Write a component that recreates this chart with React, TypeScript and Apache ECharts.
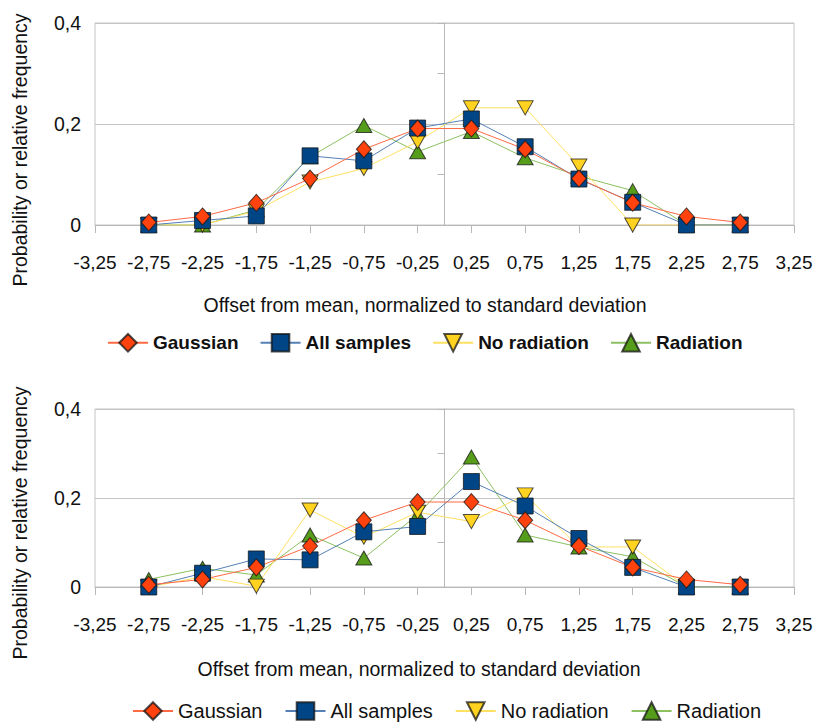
import React, { useEffect, useRef } from "react";
import * as echarts from "echarts";

const bins = [-2.75, -2.25, -1.75, -1.25, -0.75, -0.25, 0.25, 0.75, 1.25, 1.75, 2.25, 2.75];
const xTickValues = [-3.25, -2.75, -2.25, -1.75, -1.25, -0.75, -0.25, 0.25, 0.75, 1.25, 1.75, 2.25, 2.75, 3.25];

const gaussian = [0.005, 0.017, 0.044, 0.092, 0.15, 0.191, 0.191, 0.15, 0.092, 0.044, 0.017, 0.005];

const topAllSamples = [0.0, 0.009, 0.018, 0.137, 0.127, 0.192, 0.21, 0.155, 0.091, 0.045, 0.0, 0.0];
const topNoRadiation = [0.0, 0.0, 0.028, 0.085, 0.112, 0.165, 0.232, 0.232, 0.117, 0.0, 0.0, 0.0];
const topRadiation = [0.0, 0.0, 0.03, 0.135, 0.197, 0.145, 0.185, 0.133, 0.097, 0.068, 0.0, 0.0];

const bottomAllSamples = [0.0, 0.031, 0.063, 0.061, 0.124, 0.136, 0.237, 0.182, 0.109, 0.044, 0.0, 0.0];
const bottomNoRadiation = [0.0, 0.023, 0.002, 0.173, 0.112, 0.168, 0.147, 0.207, 0.09, 0.09, 0.0, 0.0];
const bottomRadiation = [0.017, 0.042, 0.027, 0.117, 0.065, 0.162, 0.292, 0.117, 0.09, 0.068, 0.0, 0.0];

const legendNames = ["Gaussian", "All samples", "No radiation", "Radiation"];
const yAxisTitle = "Probability or relative frequency";
const xAxisTitle = "Offset from mean, normalized to standard deviation";

const FONT = "'Liberation Sans', Arial, sans-serif";

const seriesStyle: Record<string, any> = {
  Gaussian: { symbol: "diamond", size: [15, 17], rotate: 0, fill: "#ff420e", line: "#ff6a45" },
  "All samples": { symbol: "rect", size: 16, rotate: 0, fill: "#004586", line: "#5580b5" },
  "No radiation": { symbol: "triangle", size: [16, 14], rotate: 180, fill: "#ffd320", line: "#ffe060" },
  Radiation: { symbol: "triangle", size: [16, 14], rotate: 0, fill: "#579d1c", line: "#8cc060" },
};

const fmt = (v: number) => (Math.abs(v) < 1e-9 ? "0" : String(Math.round(v * 100) / 100).replace(".", ","));

function makeSeries(idx: number, name: string, values: number[], withMark: boolean) {
  const s = seriesStyle[name];
  const series: any = {
    type: "line",
    name,
    xAxisIndex: idx,
    yAxisIndex: idx,
    data: bins.map((b, i) => [b, values[i]]),
    symbol: s.symbol,
    symbolSize: s.size,
    symbolRotate: s.rotate,
    showSymbol: true,
    lineStyle: { color: s.line, width: 1 },
    itemStyle: { color: s.fill, borderColor: "rgba(20,20,20,0.75)", borderWidth: 1 },
    emphasis: { disabled: true },
    silent: true,
  };
  if (withMark) {
    series.markLine = {
      silent: true,
      symbol: ["none", "none"],
      label: { show: false },
      lineStyle: { color: "#b8b8b8", type: "solid", width: 1 },
      data: [{ xAxis: 0 }],
      z: 1,
    };
  }
  return series;
}

function xAxisDef(idx: number) {
  return {
    type: "value",
    gridIndex: idx,
    min: -3.25,
    max: 3.25,
    axisLine: { show: true, lineStyle: { color: "#b8b8b8" } },
    axisTick: { show: true, length: 8, customValues: xTickValues, lineStyle: { color: "#b8b8b8" } },
    axisLabel: {
      customValues: xTickValues,
      formatter: (v: number) => v.toFixed(2).replace(".", ","),
      fontSize: 19,
      fontFamily: FONT,
      color: "#111",
      margin: 28,
    },
    splitLine: { show: false },
  };
}

function yAxisDef(idx: number) {
  return {
    type: "value",
    gridIndex: idx,
    min: 0,
    max: 0.4,
    interval: 0.2,
    axisLine: { show: true, lineStyle: { color: "#b8b8b8" } },
    axisTick: { show: true, length: 7, lineStyle: { color: "#b8b8b8" } },
    minorTick: { show: true, splitNumber: 2, length: 7, lineStyle: { color: "#b8b8b8" } },
    axisLabel: { formatter: fmt, fontSize: 19.5, fontFamily: FONT, color: "#111", margin: 14 },
    splitLine: { show: true, lineStyle: { color: "#c4c4c4" } },
  };
}

function textEl(text: string, x: number, y: number, rot: number) {
  return {
    type: "text",
    x,
    y,
    rotation: rot,
    style: {
      text,
      fontSize: 19.5,
      fontFamily: FONT,
      fill: "#111",
      align: "center",
      verticalAlign: "middle",
      textAlign: "center",
      textVerticalAlign: "middle",
    },
  };
}

export default function App() {
  const ref = useRef<HTMLDivElement>(null);
  useEffect(() => {
    if (!ref.current) return;
    const chart = echarts.init(ref.current, undefined, { renderer: "svg" });
    const order = ["Radiation", "No radiation", "All samples", "Gaussian"];
    const topData: Record<string, number[]> = {
      Gaussian: gaussian,
      "All samples": topAllSamples,
      "No radiation": topNoRadiation,
      Radiation: topRadiation,
    };
    const bottomData: Record<string, number[]> = {
      Gaussian: gaussian,
      "All samples": bottomAllSamples,
      "No radiation": bottomNoRadiation,
      Radiation: bottomRadiation,
    };
    const series = [
      ...order.map((n, i) => makeSeries(0, n, topData[n], i === 0)),
      ...order.map((n, i) => makeSeries(1, n, bottomData[n], i === 0)),
    ];
    chart.setOption({
      animation: false,
      backgroundColor: "#fff",
      grid: [
        { left: 95, right: 22, top: 23, height: 202, show: true, borderColor: "#c4c4c4", borderWidth: 1 },
        { left: 95, right: 22, top: 409, height: 178, show: true, borderColor: "#c4c4c4", borderWidth: 1 },
      ],
      xAxis: [xAxisDef(0), xAxisDef(1)],
      yAxis: [yAxisDef(0), yAxisDef(1)],
      legend: [
        {
          data: legendNames,
          left: 102,
          top: 328,
          itemWidth: 40,
          itemHeight: 22,
          itemGap: 21,
          selectedMode: false,
          textStyle: { fontSize: 19, fontWeight: "bold", fontFamily: FONT, color: "#111" },
        },
        {
          data: legendNames,
          left: 127,
          top: 696,
          itemWidth: 40,
          itemHeight: 22,
          itemGap: 22,
          selectedMode: false,
          textStyle: { fontSize: 20, fontWeight: "normal", fontFamily: FONT, color: "#111" },
        },
      ],
      graphic: [
        textEl(yAxisTitle, 20, 150, Math.PI / 2),
        textEl(yAxisTitle, 20, 523, Math.PI / 2),
        textEl(xAxisTitle, 425, 305, 0),
        textEl(xAxisTitle, 419, 669, 0),
      ],
      series,
    });
    return () => chart.dispose();
  }, []);
  return <div ref={ref} style={{ position: "absolute", left: 0, top: 0, width: 816, height: 722 }} />;
}
